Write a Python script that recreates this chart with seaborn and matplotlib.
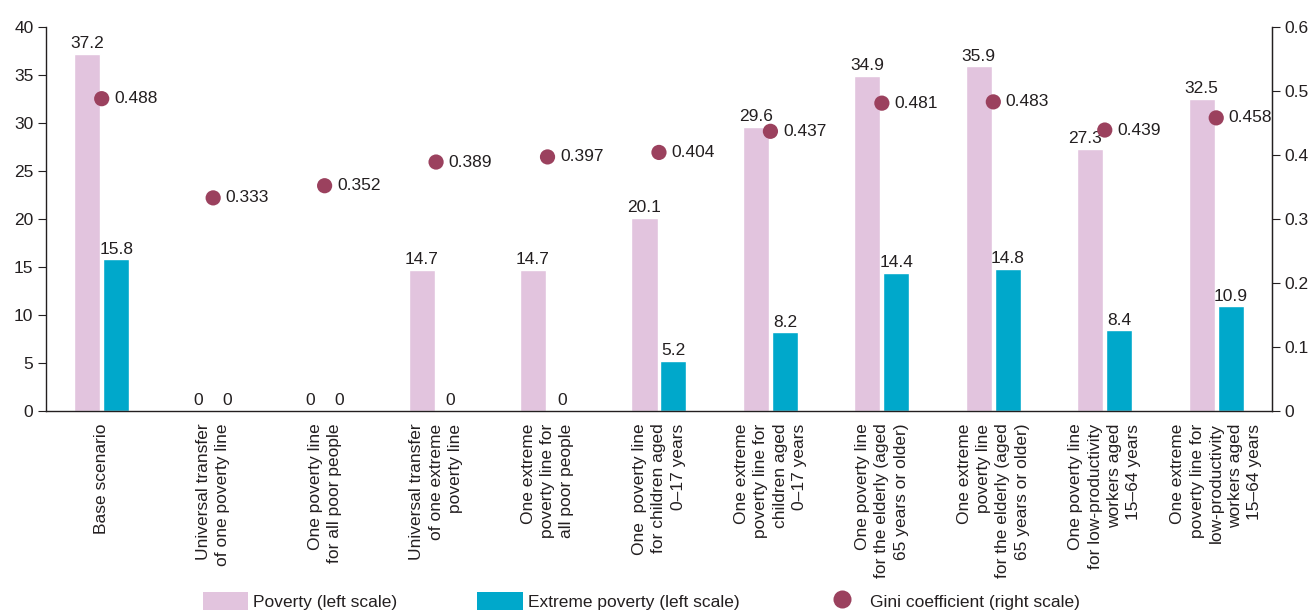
import matplotlib
matplotlib.use("Agg")
import matplotlib.pyplot as plt
from matplotlib.patches import Patch
from matplotlib.lines import Line2D
import seaborn as sns
import pandas as pd
import numpy as np

# data
categories = [
    "Base scenario",
    "Universal transfer\nof one poverty line",
    "One poverty line\nfor all poor people",
    "Universal transfer\nof one extreme\npoverty line",
    "One extreme\npoverty line for\nall poor people",
    "One  poverty line\nfor children aged\n0\u201317 years",
    "One extreme\npoverty line for\nchildren aged\n0\u201317 years",
    "One poverty line\nfor the elderly (aged\n65 years or older)",
    "One extreme\npoverty line\nfor the elderly (aged\n65 years or older)",
    "One poverty line\nfor low-productivity\nworkers aged\n15\u201364 years",
    "One extreme\npoverty line for\nlow-productivity\nworkers aged\n15\u201364 years",
]
poverty = [37.2, 0, 0, 14.7, 14.7, 20.1, 29.6, 34.9, 35.9, 27.3, 32.5]
extreme = [15.8, 0, 0, 0, 0, 5.2, 8.2, 14.4, 14.8, 8.4, 10.9]
gini = [0.488, 0.333, 0.352, 0.389, 0.397, 0.404, 0.437, 0.481, 0.483, 0.439, 0.458]

series_names = ["Poverty (left scale)", "Extreme poverty (left scale)"]
pink = "#e2c4de"
teal = "#00a8cb"
berry = "#9b415e"
txt = "#231f20"

sns.set_style("white")
plt.rcParams['font.family'] = ['Liberation Sans', 'DejaVu Sans']
plt.rcParams['font.size'] = 12.5
plt.rcParams['text.color'] = txt
plt.rcParams['xtick.color'] = txt
plt.rcParams['ytick.color'] = txt

df = pd.DataFrame({
    "scenario": categories * 2,
    "series": [series_names[0]] * len(categories) + [series_names[1]] * len(categories),
    "value": poverty + extreme,
})

fig = plt.figure(figsize=(13.14, 6.12), dpi=100)
ax = fig.add_axes([0.035, 0.3284, 0.933, 0.6275])

sns.barplot(data=df, x="scenario", y="value", hue="series",
            palette=[pink, teal], width=0.52, gap=0.1, legend=False,
            saturation=1, ax=ax)

ax.set_xlim(-0.5, len(categories) - 0.5)
ax.set_ylim(0, 40)
ax.set_yticks(range(0, 41, 5))
ax.set_xlabel("")
ax.set_ylabel("")
ax.set_xticks(range(len(categories)))
ax.set_xticklabels(categories, rotation=90, ha="center", va="top",
                   multialignment="right", linespacing=1.35)
ax.tick_params(axis="x", which="major", length=0, pad=9)
ax.set_xticks(np.arange(-0.5, len(categories), 1), minor=True)
ax.tick_params(axis="x", which="minor", length=6, direction="out", color=txt)
ax.tick_params(axis="y", length=6, direction="out", left=True, color=txt, pad=3)
ax.spines["top"].set_visible(False)
for s in ["left", "bottom", "right"]:
    ax.spines[s].set_color(txt)
    ax.spines[s].set_linewidth(1)

ax2 = ax.twinx()
sns.scatterplot(x=np.arange(len(gini)), y=gini, color=berry, s=120,
                edgecolor="none", ax=ax2, zorder=5)
for i, g in enumerate(gini):
    ax2.annotate(f"{g:.3f}", (i, g), xytext=(9, 0), textcoords="offset points",
                 va="center", ha="left", fontsize=12.5, color=txt)
ax2.set_ylim(0, 0.6)
ax2.set_yticks(np.arange(0, 0.61, 0.1))
ax2.set_yticklabels(["0"] + [f"{v:.1f}" for v in np.arange(0.1, 0.61, 0.1)])
ax2.tick_params(axis="y", length=6, direction="out", right=True, color=txt, pad=3)
ax2.spines["top"].set_visible(False)
ax2.spines["right"].set_color(txt)
ax2.spines["left"].set_visible(False)
ax2.spines["bottom"].set_visible(False)

# bar value labels, drawn on the top axes so the dots don't hide them;
# a label sitting just under a dot is pushed to the left like in the original
scale = 40 / 0.6
for k, cont in enumerate(ax.containers):
    for i, (bar, v) in enumerate(zip(cont, cont.datavalues)):
        xc = bar.get_x() + bar.get_width() / 2
        clash = k == 0 and 0 < gini[i] * scale - v < 3
        ax2.annotate(f"{v:g}", (xc + (0.1 if clash else 0), v), xycoords=ax.transData,
                     xytext=(0, 2), textcoords="offset points",
                     ha="right" if clash else "center", va="bottom",
                     fontsize=12.5, color=txt)

handles = [
    Patch(facecolor=pink, edgecolor="none"),
    Patch(facecolor=teal, edgecolor="none"),
    Line2D([], [], marker="o", color="none", markerfacecolor=berry,
           markeredgecolor="none", markersize=13),
]
fig.legend(handles, ["Poverty (left scale)", "Extreme poverty (left scale)",
                     "Gini coefficient (right scale)"],
           loc="center", bbox_to_anchor=(0.488, 0.018), ncol=3, frameon=False,
           handlelength=2.6, handleheight=1.2, columnspacing=4.6,
           handletextpad=0.3, fontsize=12.5)

fig.savefig("out.png", dpi=100)
